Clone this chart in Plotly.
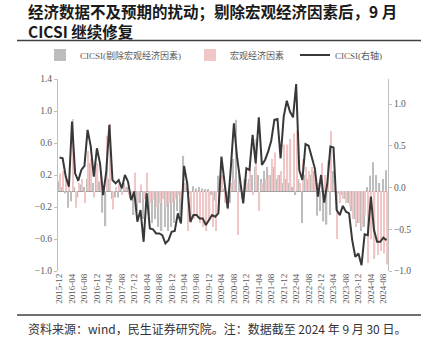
import plotly.graph_objects as go
import pandas as pd

# ---- data ----
months = pd.date_range("2015-12-01", "2024-09-01", freq="MS").strftime("%Y-%m").tolist()

cicsi_ex_macro = [
    0.12, 0.05, -0.03, -0.21, -0.13, 0.05, -0.08, 0.08, 0.05, 0.15, 0.35, 0.10,
    0.30, 0.12, -0.27, -0.44, 0.15, -0.10, -0.08, -0.08, 0.03, 0.10, 0.05, -0.10,
    -0.30, -0.25, -0.15, -0.35, -0.10, -0.30, -0.40, -0.35, -0.45, -0.50, -0.45, -0.50,
    -0.45, -0.40, -0.25, -0.30, 0.44, 0.05, -0.03, 0.06, 0.03, 0.05, 0.03, 0.02,
    0.02, -0.05, -0.12, 0.19, 0.15, 0.03, -0.05, -0.15, 0.40, 0.89, 0.20, -0.10,
    0.15, 0.15, 0.20, 0.30, 0.20, 0.15, 0.25, 0.30, 0.20, 0.30, 0.15, 0.20,
    0.10, 0.15, 0.10, 0.05, -0.05, 0.15, -0.40, 0.20, 0.15, 0.20, 0.25, -0.31,
    -0.25, -0.38, -0.42, -0.30, 0.25, -0.05, -0.03, -0.05, -0.10, -0.15, -0.25, -0.35,
    -0.40, -0.50, -0.45, 0.05, 0.19, 0.36, 0.20, 0.10, 0.15, 0.26,
]

macro_factor = [
    0.22, 0.25, 0.15, 0.05, 0.90, -0.21, 0.10, 0.15, -0.15, 0.50, 0.40, -0.08,
    0.35, 0.20, 0.05, 0.69, 0.84, -0.23, 0.05, 0.10, -0.05, 0.05, -0.05, -0.05,
    0.23, -0.15, 0.08, -0.10, 0.23, -0.15, -0.10, -0.20, -0.15, -0.10, -0.20, -0.15,
    -0.15, -0.10, -0.05, -0.10, 0.10, -0.50, -0.40, -0.35, -0.30, -0.40, -0.45, -0.50,
    -0.35, -0.45, -0.50, -0.25, 0.20, -0.15, -0.23, 0.10, 0.15, -0.55, 0.05, 0.15,
    0.10, 0.38, -0.05, 0.65, -0.25, 0.10, 0.15, 0.20, 0.40, 0.48, 0.20, 0.25,
    0.58, 0.58, 0.65, 0.72, 0.75, 0.10, 0.40, 0.30, 0.25, 0.30, 0.20, 0.10,
    0.35, 0.20, 0.38, 0.75, 0.10, -0.60, -0.15, -0.10, -0.15, -0.20, -0.35, -0.45,
    -0.40, -0.45, -0.30, -0.90, -0.60, -0.85, -0.80, -0.75, -0.78, -0.92,
]

cicsi = [
    0.36, 0.35, 0.13, 0.01, 0.79, 0.17, 0.08, 0.21, 0.26, 0.69, 0.50, 0.13,
    0.47, 0.29, -0.09, 0.19, 0.75, 0.09, 0.05, 0.09, -0.01, 0.15, 0.07, -0.15,
    -0.05, -0.41, -0.27, -0.65, -0.07, -0.49, -0.50, -0.55, -0.55, -0.57, -0.67, -0.63,
    -0.53, -0.52, -0.31, -0.43, 0.26, 0.05, -0.41, -0.33, -0.33, -0.37, -0.37, -0.45,
    -0.39, -0.33, -0.35, -0.31, 0.37, 0.09, -0.25, 0.23, 0.77, 0.37, 0.09, -0.19,
    0.23, 0.21, 0.63, 0.29, 0.84, 0.27, 0.33, 0.43, 0.56, 0.81, 0.82, 0.35,
    0.85, 1.04, 0.91, 0.84, 1.24, 0.21, 0.09, 0.52, 0.50, 0.37, 0.23, -0.11,
    0.15, -0.18, 0.05, 0.49, 0.48, -0.27, -0.33, -0.22, -0.29, -0.31, -0.63, -0.83,
    -0.79, -0.93, -0.56, -0.57, -0.11, -0.51, -0.65, -0.65, -0.60, -0.63,
]

tick_labels = months[::4]

title_text = "<b>经济数据不及预期的扰动；剔除宏观经济因素后，9 月<br>CICSI 继续修复</b>"
source_text = "资料来源：wind，民生证券研究院。注：数据截至 2024 年 9 月 30 日。"

# ---- figure ----
TICK_FONT = dict(family="Liberation Serif, Noto Sans CJK SC", size=9.5, color="#595959")
XTICK_FONT = dict(family="Liberation Serif, Noto Sans CJK SC", size=9, color="#595959")
LEG_FONT = dict(family="Liberation Serif, Noto Sans CJK SC", size=9, color="#595959")
TITLE_FONT = dict(family="Noto Sans CJK SC", size=15.5, color="#1a1a1a")

fig = go.Figure()
fig.add_trace(go.Bar(
    x=months, y=cicsi_ex_macro, name="CICSI(剔除宏观经济因素)",
    marker=dict(color="#bdbdbd", line=dict(width=0)), legend="legend",
))
fig.add_trace(go.Bar(
    x=months, y=macro_factor, name="宏观经济因素",
    marker=dict(color="#f1c6c6", line=dict(width=0)), legend="legend2",
))
fig.add_trace(go.Scatter(
    x=months, y=cicsi, name="CICSI(右轴)", mode="lines", yaxis="y2",
    line=dict(color="#383838", width=2), legend="legend3",
))

W, H = 429, 357
L, R, T, B = 58, 41, 79, 86
pw, ph = W - L - R, H - T - B


def px_x(x):
    return (x - L) / pw


def px_y(y):
    return (H - B - y) / ph


fig.update_layout(
    width=W, height=H,
    margin=dict(l=L, r=R, t=T, b=B, pad=0, autoexpand=False),
    paper_bgcolor="white", plot_bgcolor="white",
    barmode="group", bargap=0.15, bargroupgap=0.0,
    showlegend=True,
    xaxis=dict(
        type="category", categoryorder="array", categoryarray=months,
        range=[-0.5, len(months) - 0.5],
        tickmode="array", tickvals=tick_labels, ticktext=tick_labels,
        tickangle=-90, tickfont=XTICK_FONT, showgrid=False, showline=False,
        ticks="", zeroline=False,
    ),
    yaxis=dict(
        range=[-1.0, 1.4], dtick=0.4, tick0=-1.0, tickformat=".1f",
        tickfont=TICK_FONT, showgrid=False, showline=True, linecolor="#bfbfbf",
        linewidth=1, ticks="outside", ticklen=3, tickcolor="#bfbfbf",
        zeroline=True, zerolinecolor="#a0a0a0", zerolinewidth=1,
    ),
    yaxis2=dict(
        overlaying="y", side="right", range=[-1.0, 1.3], dtick=0.5, tick0=-1.0,
        tickformat=".1f", tickfont=TICK_FONT, showgrid=False, showline=True,
        linecolor="#bfbfbf", linewidth=1, ticks="outside", ticklen=3,
        tickcolor="#bfbfbf", zeroline=False,
    ),
    legend=dict(x=px_x(40), y=px_y(55), xanchor="left", yanchor="middle",
                orientation="h", font=LEG_FONT, bgcolor="rgba(0,0,0,0)", itemwidth=30),
    legend2=dict(x=px_x(190), y=px_y(55), xanchor="left", yanchor="middle",
                 orientation="h", font=LEG_FONT, bgcolor="rgba(0,0,0,0)", itemwidth=30),
    legend3=dict(x=px_x(295), y=px_y(55), xanchor="left", yanchor="middle",
                 orientation="h", font=LEG_FONT, bgcolor="rgba(0,0,0,0)", itemwidth=30),
    shapes=[
        dict(type="line", xref="paper", yref="paper", x0=px_x(17), x1=px_x(421),
             y0=px_y(40.5), y1=px_y(40.5), line=dict(color="#404040", width=1.5)),
        dict(type="line", xref="paper", yref="paper", x0=px_x(17), x1=px_x(421),
             y0=px_y(315), y1=px_y(315), line=dict(color="#404040", width=1.5)),
    ],
    annotations=[
        dict(text=title_text, xref="paper", yref="paper", x=px_x(26), y=px_y(21.5),
             xanchor="left", yanchor="middle", align="left", showarrow=False,
             font=TITLE_FONT),
        dict(text=source_text, xref="paper", yref="paper", x=px_x(26), y=px_y(328),
             xanchor="left", yanchor="middle", showarrow=False,
             font=dict(family="Noto Sans CJK SC", size=12, color="#333333")),
    ],
)

fig.write_html("out.html", config={"displayModeBar": False},
               post_script="document.body.style.margin='0';")
